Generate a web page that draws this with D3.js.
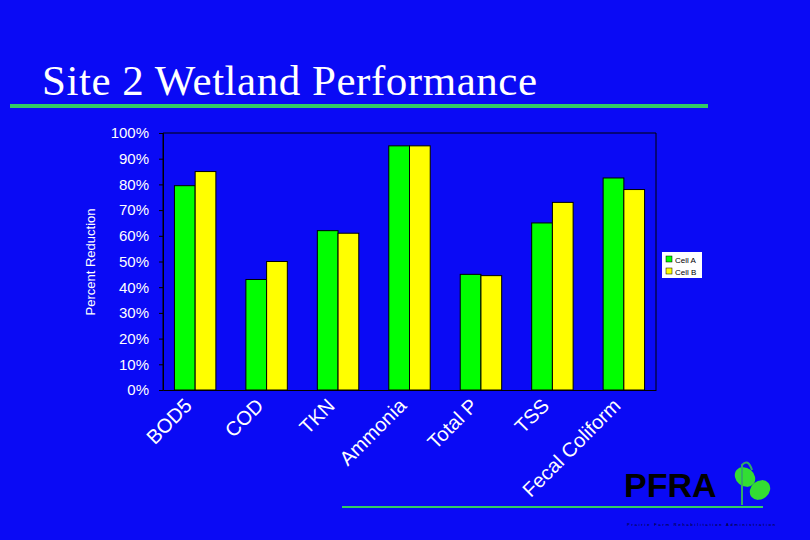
<!DOCTYPE html><html><head><script src="https://cdn.jsdelivr.net/npm/d3@7"></script>
<style>body{margin:0;background:#0a0af5}</style></head><body><svg id="c" width="810" height="540"></svg>
<script>
const categories=["BOD5","COD","TKN","Ammonia","Total P","TSS","Fecal Coliform"];
const cellA=[79.5,43,62,95,45,65,82.5];
const cellB=[85,50,61,95,44.5,73,78];
const yTicks=[0,10,20,30,40,50,60,70,80,90,100];
const svg=d3.select("#c");
svg.append("rect").attr("width",810).attr("height",540).attr("fill","#0a0af5");
svg.append("text").attr("x",42).attr("y",95).attr("textLength",495).attr("font-family","Liberation Serif").attr("font-size",43).attr("fill","#fff").text("Site 2 Wetland Performance");
svg.append("line").attr("x1",10).attr("x2",708).attr("y1",106).attr("y2",106).attr("stroke","#33cc66").attr("stroke-width",4);
const L=163,R=656,T=133,B=390;
const x=d3.scaleBand().domain(categories).range([L,R]).paddingInner(0.42).paddingOuter(0.16);
const y=d3.scaleLinear().domain([0,100]).range([B,T]);
svg.append("polyline").attr("points",`${L},${B} ${L},${T} ${R},${T} ${R},${B}`).attr("fill","none").attr("stroke","#000");
const ya=svg.append("g").attr("transform",`translate(${L},0)`).call(d3.axisLeft(y).tickValues(yTicks).tickFormat(d=>d+"%").tickSize(4).tickPadding(10));
ya.selectAll("text").attr("fill","#fff").attr("font-family","Liberation Sans").attr("font-size",15);
ya.selectAll("line,path").attr("stroke","#000");
const xa=svg.append("g").attr("transform",`translate(0,${B})`).call(d3.axisBottom(x).tickSize(0).tickFormat(""));
xa.select("path").attr("stroke","#000");
const bw=x.bandwidth()/2;
svg.selectAll(".a").data(categories).join("rect").attr("x",d=>x(d)).attr("width",bw).attr("y",(d,i)=>y(cellA[i])).attr("height",(d,i)=>B-y(cellA[i])).attr("fill","#00ff00").attr("stroke","#000");
svg.selectAll(".b").data(categories).join("rect").attr("x",d=>x(d)+bw).attr("width",bw).attr("y",(d,i)=>y(cellB[i])).attr("height",(d,i)=>B-y(cellB[i])).attr("fill","#ffff00").attr("stroke","#000");
svg.selectAll(".cl").data(categories).join("text").attr("transform",d=>`translate(${x(d)+bw-2},${B+17}) rotate(-45)`).attr("text-anchor","end").attr("font-family","Liberation Sans").attr("font-size",20).attr("fill","#fff").text(d=>d);
svg.append("text").attr("transform","translate(95,262) rotate(-90)").attr("text-anchor","middle").attr("font-family","Liberation Sans").attr("font-size",13).attr("fill","#fff").text("Percent Reduction");
const lg=svg.append("g").attr("transform","translate(662,252)");
lg.append("rect").attr("width",40).attr("height",26).attr("fill","#fff");
[["Cell A","#00ff00"],["Cell B","#ffff00"]].forEach((d,i)=>{lg.append("rect").attr("x",4).attr("y",4+i*12).attr("width",6).attr("height",6).attr("fill",d[1]).attr("stroke","#000").attr("stroke-width",0.5);
lg.append("text").attr("x",13).attr("y",10.5+i*12).attr("font-family","Liberation Sans").attr("font-size",8).attr("fill","#000").text(d[0]);});
svg.append("line").attr("x1",342).attr("x2",763).attr("y1",507).attr("y2",507).attr("stroke","#33cc66").attr("stroke-width",2);
svg.append("text").attr("x",624).attr("y",497).attr("font-family","Liberation Sans").attr("font-weight","bold").attr("font-size",34).attr("fill","#000").text("PFRA");
svg.append("ellipse").attr("cx",745).attr("cy",477).attr("rx",11).attr("ry",9).attr("fill","#33dd33").attr("transform","rotate(40,745,477)");
svg.append("ellipse").attr("cx",760).attr("cy",490).attr("rx",11).attr("ry",9).attr("fill","#33dd33").attr("transform","rotate(-40,760,490)");
svg.append("path").attr("d","M742,505 L742,465 Q748,458 752,470").attr("fill","none").attr("stroke","#33aa66").attr("stroke-width",2);
svg.append("text").attr("x",627).attr("y",526).attr("textLength",148).attr("font-family","Liberation Sans").attr("font-size",4).attr("fill","#000").text("Prairie Farm Rehabilitation Administration");
</script></body></html>
